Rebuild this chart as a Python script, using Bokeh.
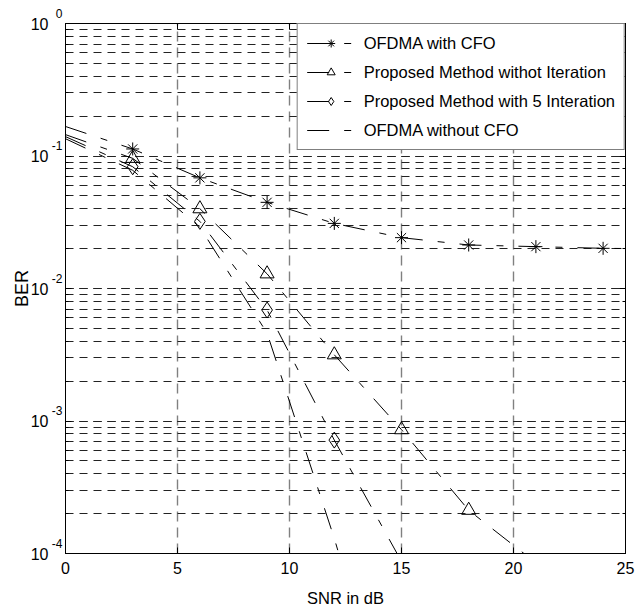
from bokeh.plotting import figure
from bokeh.models import (Legend, LegendItem, LogAxis, LinearAxis, FixedTicker,
                          LogTicker, Range1d, CustomJSTickFormatter)
from bokeh.embed import file_html
from bokeh.resources import INLINE

# ---- data ----
snr_cfo = [0, 3, 6, 9, 12, 15, 18, 21, 24, 27]
ber_cfo = [0.167, 0.113, 0.0684, 0.0447, 0.0310, 0.0242, 0.0213, 0.0207, 0.0201, 0.0199]

snr_noiter = [0, 3, 6, 9, 12, 15, 18, 21]
ber_noiter = [0.145, 0.096, 0.040, 0.0129, 0.00316, 0.00086, 0.000212, 0.000085]

snr_iter5 = [0, 3, 6, 9, 12, 15]
ber_iter5 = [0.140, 0.083, 0.0321, 0.00688, 0.000718, 0.000087]

snr_nocfo = [0, 3, 6, 9, 12, 15]
ber_nocfo = [0.135, 0.078, 0.029, 0.0046, 0.00013, 0.0000025]

x_ticks = [0, 5, 10, 15, 20, 25]
y_ticks = [1, 0.1, 0.01, 0.001, 0.0001]
y_base = "10"
y_exp = ["0", "-1", "-2", "-3", "-4"]
labels = ["OFDMA with CFO", "Proposed Method withot Iteration",
          "Proposed Method with 5 Interation", "OFDMA without CFO"]

FONT = "Liberation Sans"
DASH = "22 15 7 15"

p = figure(width=635, height=612, y_axis_type="log",
           x_range=Range1d(0, 25), y_range=Range1d(1e-4, 1),
           output_backend="svg", toolbar_location=None,
           min_border_left=65, min_border_right=10,
           min_border_top=23, min_border_bottom=59)
p.background_fill_color = "white"
p.border_fill_color = "white"
p.outline_line_color = "black"
p.outline_line_width = 1
p.outline_line_alpha = 1

blank = CustomJSTickFormatter(code="return '';")
# exponent is returned with a trailing line break so that, centred on the
# tick, it sits raised like a superscript
exp_fmt = CustomJSTickFormatter(args=dict(tv=y_ticks, ev=y_exp), code="""
let best = 0, bd = 1e9;
for (let i = 0; i < tv.length; i++) {
  const d = Math.abs(Math.log10(tv[i]) - Math.log10(tick));
  if (d < bd) { bd = d; best = i; }
}
return bd < 1e-6 ? ev[best] + '\\n ' : '';
""")
base_fmt = CustomJSTickFormatter(args=dict(bv=y_base), code="return bv;")

# axes
p.xaxis.ticker = FixedTicker(ticks=x_ticks, minor_ticks=[])
for ax in (p.xaxis, p.yaxis):
    ax.major_tick_in = 6
    ax.major_tick_out = 0
    ax.minor_tick_in = 3
    ax.minor_tick_out = 0
    ax.axis_line_color = "black"
    ax.major_tick_line_color = "black"
    ax.minor_tick_line_color = "black"
    ax.major_label_text_font = FONT
    ax.major_label_text_font_size = "16px"
    ax.major_label_text_color = "black"
    ax.axis_label_text_font = FONT
    ax.axis_label_text_font_style = "normal"
    ax.axis_label_text_color = "black"
p.xaxis.minor_tick_in = 0
p.xaxis.axis_label = "SNR in dB"
p.xaxis.axis_label_text_font_size = "16.5px"
p.xaxis.major_label_standoff = 8
p.xaxis.axis_label_standoff = 12

# inner left axis: exponents (superscripts)
p.yaxis.formatter = exp_fmt
p.yaxis.major_label_text_font_size = "12px"
p.yaxis.major_label_text_baseline = "middle"
p.yaxis.major_label_text_line_height = 1.4
p.yaxis.major_label_standoff = 3

# outer left axis: the "10" base and the axis title
outer = LogAxis(ticker=LogTicker(), formatter=base_fmt,
                major_tick_in=0, major_tick_out=0, minor_tick_in=0, minor_tick_out=0,
                axis_line_color=None, major_tick_line_color=None,
                minor_tick_line_color=None, major_label_standoff=0,
                major_label_text_font=FONT, major_label_text_font_size="16px",
                major_label_text_color="black",
                axis_label="BER", axis_label_text_font=FONT,
                axis_label_text_font_size="18px", axis_label_text_font_style="normal",
                axis_label_text_color="black", axis_label_standoff=-4)
p.add_layout(outer, "left")

top = LinearAxis(ticker=FixedTicker(ticks=x_ticks, minor_ticks=[]), formatter=blank,
                 major_tick_in=6, major_tick_out=0, minor_tick_in=0, minor_tick_out=0,
                 axis_line_color="black")
right = LogAxis(ticker=LogTicker(), formatter=blank,
                major_tick_in=6, major_tick_out=0, minor_tick_in=3, minor_tick_out=0,
                axis_line_color="black")
p.add_layout(top, "above")
p.add_layout(right, "right")

# grids
p.xgrid.ticker = FixedTicker(ticks=x_ticks, minor_ticks=[])
p.xgrid.grid_line_color = "#808080"
p.xgrid.grid_line_width = 1.4
p.xgrid.grid_line_dash = "10 6"
p.ygrid.grid_line_color = "#222222"
p.ygrid.grid_line_dash = "8 6"
p.ygrid.minor_grid_line_color = "#222222"
p.ygrid.minor_grid_line_dash = "8 6"

# series
items = []
series = [
    (snr_cfo, ber_cfo, "asterisk", 13),
    (snr_noiter, ber_noiter, "triangle", 14),
    (snr_iter5, ber_iter5, "diamond", 16),
    (snr_nocfo, ber_nocfo, None, 0),
]
for (xs, ys, mk, sz), lab in zip(series, labels):
    rs = [p.line(xs, ys, line_color="black", line_width=1, line_dash=DASH)]
    if mk:
        rs.append(p.scatter(xs[1:], ys[1:], marker=mk, size=sz, line_color="black",
                            line_width=1, fill_alpha=0))
    items.append(LegendItem(label=lab, renderers=rs))

legend = Legend(items=items, location="top_right", margin=0, padding=9,
                spacing=9, glyph_width=48, glyph_height=20, label_height=20,
                label_standoff=9, label_text_font=FONT, label_text_font_size="16.5px",
                label_text_color="black", border_line_color="black",
                border_line_width=1, background_fill_color="white",
                background_fill_alpha=1)
p.add_layout(legend)

open("out.html", "w").write(file_html(p, INLINE))
